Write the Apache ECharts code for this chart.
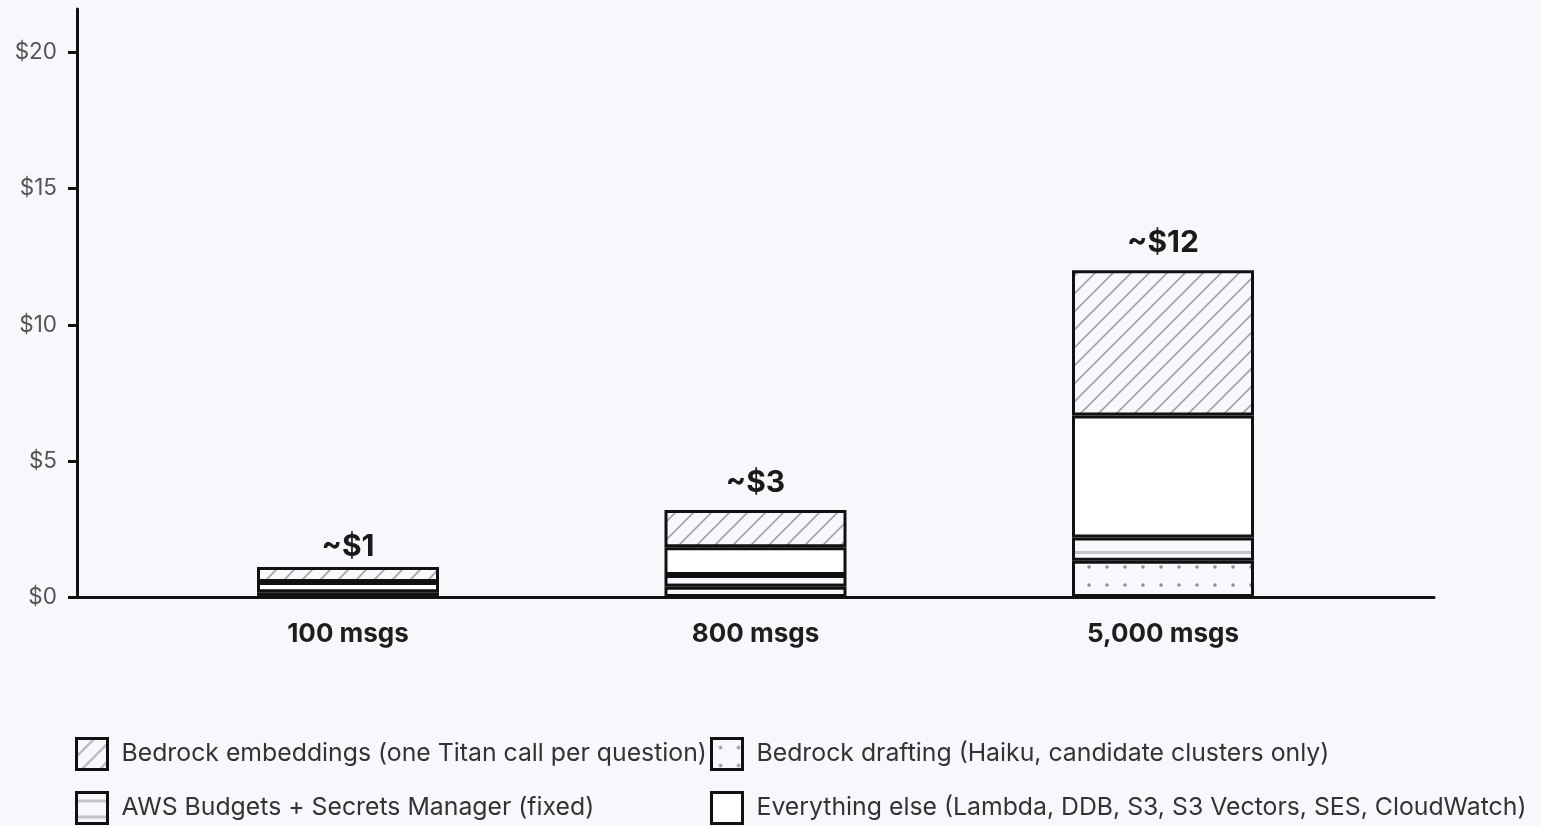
<!DOCTYPE html>
<html>
<head>
<meta charset="utf-8">
<title>Monthly cost by message volume</title>
<script src="https://cdn.jsdelivr.net/npm/echarts@6/dist/echarts.min.js"></script>
<style>
  html, body { margin: 0; padding: 0; background: #f8f8fc; }
  #chart { width: 1541px; height: 826px; }
</style>
</head>
<body>
<div id="chart"></div>
<script>
// Message volumes per month
const categories = ['100 msgs', '800 msgs', '5,000 msgs'];

// Monthly cost components in USD, stacked bottom to top
const drafting = [0.05, 0.38, 1.33];
const budgets = [0.12, 0.43, 0.86];
const everythingElse = [0.38, 1.02, 4.48];
const embeddings = [0.55, 1.37, 5.33];

// Rounded totals printed above each bar
const totalLabels = ['~$1', '~$3', '~$12'];

// Y axis ticks
const yTicks = [0, 5, 10, 15, 20];
const yMax = 21.6;

const names = {
  embeddings: 'Bedrock embeddings (one Titan call per question)',
  drafting: 'Bedrock drafting (Haiku, candidate clusters only)',
  budgets: 'AWS Budgets + Secrets Manager (fixed)',
  other: 'Everything else (Lambda, DDB, S3, S3 Vectors, SES, CloudWatch)'
};

const BG = '#f7f7fc';
const FONT = 'Inter, "Noto Sans", "DejaVu Sans", sans-serif';

function tile(w, h, draw) {
  const c = document.createElement('canvas');
  c.width = w; c.height = h;
  const ctx = c.getContext('2d');
  ctx.fillStyle = BG;
  ctx.fillRect(0, 0, w, h);
  draw(ctx);
  return { image: c, repeat: 'repeat' };
}

// Diagonal hatch
const hatch = tile(18, 18, ctx => {
  ctx.strokeStyle = '#a2a2a8';
  ctx.lineWidth = 1.6;
  for (let k = -1; k <= 1; k++) {
    ctx.beginPath();
    ctx.moveTo(-2 + k * 18, 20);
    ctx.lineTo(20 + k * 18, -2);
    ctx.stroke();
  }
});

// Dot grid
const dots = tile(18, 18, ctx => {
  ctx.fillStyle = '#8e8e96';
  ctx.beginPath();
  ctx.arc(9, 9, 1.7, 0, Math.PI * 2);
  ctx.fill();
});

// Horizontal rule
const rules = tile(16, 16, ctx => {
  ctx.fillStyle = '#c2c2c8';
  ctx.fillRect(0, 7, 16, 3);
});

const border = { borderColor: '#111', borderWidth: 3 };

function barSeries(name, data, fill, extra) {
  return Object.assign({
    name: name,
    type: 'bar',
    stack: 'cost',
    xAxisIndex: 1,
    yAxisIndex: 1,
    barWidth: 182,
    data: data,
    itemStyle: Object.assign({ color: fill }, border),
    emphasis: { disabled: true }
  }, extra || {});
}

// One legend entry per slot, two columns by two rows
function legendItem(name, left, top) {
  return {
    left: left, top: top,
    itemWidth: 31, itemHeight: 31, icon: 'rect',
    itemStyle: { borderColor: '#111', borderWidth: 3 },
    textStyle: { fontSize: 24.8, color: '#333', padding: [7, 0, 0, 9], fontFamily: FONT },
    selectedMode: false,
    data: [name]
  };
}

// Top segment carries the total label; the short first bar sits its label a bit closer
const embeddingsItems = embeddings.map((v, i) => ({
  value: v,
  label: { distance: i === 0 ? 5 : 12 }
}));

const chart = echarts.init(document.getElementById('chart'));

chart.setOption({
  backgroundColor: '#f8f8fc',
  animation: false,
  textStyle: { fontFamily: FONT },
  grid: [
    { left: 77, right: 107, top: 9, bottom: 229 },
    { left: 144.25, right: 174.25, top: 9, bottom: 229 }
  ],
  xAxis: [
    {
      gridIndex: 0, type: 'value', min: 0, max: 1,
      axisLine: { show: true, lineStyle: { color: '#111', width: 3 } },
      axisTick: { show: false }, axisLabel: { show: false }, splitLine: { show: false }
    },
    {
      gridIndex: 1, type: 'category', data: categories,
      axisLine: { show: false }, axisTick: { show: false },
      axisLabel: { margin: 24, fontSize: 26, fontWeight: 'bold', color: '#1e1e1e', fontFamily: FONT }
    }
  ],
  yAxis: [
    {
      gridIndex: 0, type: 'value', min: 0, max: yMax,
      axisLine: { show: true, lineStyle: { color: '#111', width: 3 } },
      axisTick: { show: true, length: 9, lineStyle: { color: '#111', width: 3 }, customValues: yTicks },
      axisLabel: {
        customValues: yTicks, margin: 20, fontSize: 22.5, color: '#555', fontFamily: FONT,
        formatter: v => '$' + v
      },
      splitLine: { show: false }
    },
    {
      gridIndex: 1, type: 'value', min: 0, max: yMax, show: false, splitLine: { show: false }
    }
  ],
  legend: [
    legendItem(names.embeddings, 70, 732),
    legendItem(names.drafting, 705, 732),
    legendItem(names.budgets, 70, 786),
    legendItem(names.other, 705, 786)
  ],
  series: [
    barSeries(names.drafting, drafting, dots),
    barSeries(names.budgets, budgets, rules),
    barSeries(names.other, everythingElse, '#ffffff'),
    barSeries(names.embeddings, embeddingsItems, hatch, {
      label: {
        show: true, position: 'top', distance: 12,
        fontSize: 30, fontWeight: 'bold', color: '#1a1a1a', fontFamily: FONT,
        formatter: p => totalLabels[p.dataIndex]
      }
    })
  ]
});
</script>
</body>
</html>
